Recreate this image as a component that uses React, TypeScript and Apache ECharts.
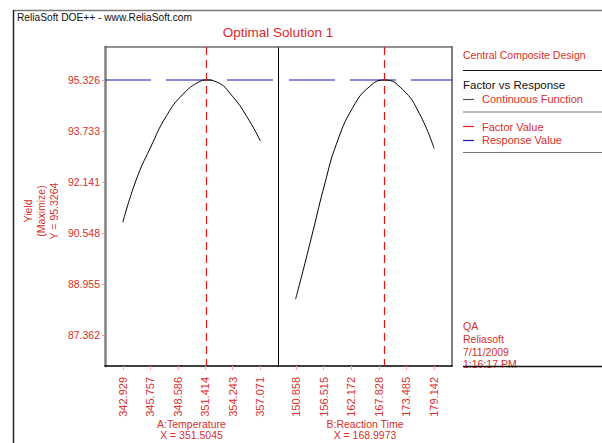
import React, { useEffect, useRef } from "react";
import * as echarts from "echarts";

// ---- data ----
const yTicks = [87.362, 88.955, 90.548, 92.141, 93.733, 95.326];
const tempTicks = [342.929, 345.757, 348.586, 351.414, 354.243, 357.071];
const timeTicks = [150.858, 156.515, 162.172, 167.828, 173.485, 179.142];

const yMin = 86.394;
const yMax = 96.357;
const tempMin = 341.1;
const tempMax = 358.9;
const timeMin = 147.2;
const timeMax = 182.8;

const tempCurveX = [342.93, 344.3, 345.75, 347.45, 349.12, 350.85, 351.5, 352.55, 354.21, 355.94, 357.07];
const tempCurveY = [90.88, 92.2, 93.2, 94.22, 94.88, 95.28, 95.326, 95.27, 94.82, 94.06, 93.43];

const timeCurveX = [150.8, 152.34, 154.38, 156.76, 159.14, 162.52, 165.92, 169.0, 172.69, 176.09, 179.14];
const timeCurveY = [88.48, 89.38, 90.62, 92.08, 93.32, 94.47, 95.12, 95.326, 95.03, 94.29, 93.19];

const tempFactor = 351.5045;
const timeFactor = 168.9973;
const responseValue = 95.326;

const tempName = "A:Temperature\nX = 351.5045";
const timeName = "B:Reaction Time\nX = 168.9973";
const yName = "Yield\n(Maximize)\nY = 95.3264";
const titleText = "Optimal Solution 1";
const headerText = "ReliaSoft DOE++ - www.ReliaSoft.com";
const footerLines = ["QA", "Reliasoft", "7/11/2009", "1:16:17 PM"];

const RED = "#d9302c";
const BLUE = "#1414b4";
const FONT = "'Liberation Sans', Arial, sans-serif";

function txt(x: number, y: number, text: string, opts: any = {}) {
  const align = opts.align || "left";
  const va = opts.va || "middle";
  return {
    type: "text",
    x,
    y,
    rotation: opts.rotation || 0,
    style: {
      text,
      fill: opts.color || RED,
      fontSize: opts.size || 10.5,
      fontFamily: FONT,
      align,
      verticalAlign: va,
      textAlign: align,
      textVerticalAlign: va,
      lineHeight: opts.lineHeight,
    },
    silent: true,
  };
}

function hline(x1: number, x2: number, y: number, stroke: string, w = 1) {
  return { type: "line", shape: { x1, y1: y, x2, y2: y }, style: { stroke, lineWidth: w }, silent: true };
}

function buildOption() {
  const fmt = (v: number) => v.toFixed(3);
  const xAxisBase = (gridIndex: number, min: number, max: number, ticks: number[], name: string) => ({
    gridIndex,
    type: "value",
    min,
    max,
    position: "bottom",
    axisLine: { show: true, onZero: false, lineStyle: { color: "#000", width: 1.5 } },
    axisTick: { show: true, customValues: ticks, length: 4, lineStyle: { color: "#f2a3a3" } },
    axisLabel: {
      customValues: ticks,
      rotate: 90,
      formatter: fmt,
      color: RED,
      fontSize: 11,
      fontFamily: FONT,
      margin: 11,
    },
    splitLine: { show: false },
    name,
    nameLocation: "middle",
    nameGap: 52,
    nameMoveOverlap: false,
    nameTextStyle: { color: RED, fontSize: 10.5, fontFamily: FONT, lineHeight: 11 },
  });
  const topAxis = (gridIndex: number, min: number, max: number) => ({
    gridIndex,
    type: "value",
    min,
    max,
    position: "top",
    axisLine: { show: true, onZero: false, lineStyle: { color: "#6e6e6e", width: 1.5 } },
    axisTick: { show: false },
    axisLabel: { show: false },
    splitLine: { show: false },
  });

  const curve = (xs: number[], ys: number[]) => xs.map((x, i) => [x, ys[i]]);

  const curveSeries = (idx: number, xs: number[], ys: number[], factor: number) => ({
    type: "line",
    xAxisIndex: idx,
    yAxisIndex: idx,
    data: curve(xs, ys),
    smooth: 0.5,
    showSymbol: false,
    color: "#000",
    lineStyle: { color: "#000", width: 1 },
    z: 3,
    markLine: {
      silent: true,
      symbol: ["none", "none"],
      label: { show: false },
      lineStyle: { color: "#dd1616", type: [8, 5], width: 1.2, dashOffset: 1 },
      data: [{ xAxis: factor }],
    },
  });

  const responseSeries = (idx: number, min: number, max: number, offset: number) => ({
    type: "line",
    xAxisIndex: idx,
    yAxisIndex: idx,
    data: [
      [min, responseValue],
      [max, responseValue],
    ],
    showSymbol: false,
    color: BLUE,
    lineStyle: { color: BLUE, type: [46, 15], width: 1.2, dashOffset: offset },
    emphasis: { disabled: true },
    silent: true,
    z: 2,
  });

  const gridBase = { top: 47, height: 319, containLabel: false, outerBoundsMode: "none" };

  return {
    animation: false,
    backgroundColor: "#fff",
    textStyle: { fontFamily: FONT },
    grid: [
      { ...gridBase, left: 105, width: 173 },
      { ...gridBase, left: 278, width: 174 },
    ],
    xAxis: [
      xAxisBase(0, tempMin, tempMax, tempTicks, tempName),
      xAxisBase(1, timeMin, timeMax, timeTicks, timeName),
      topAxis(0, tempMin, tempMax),
      topAxis(1, timeMin, timeMax),
    ],
    yAxis: [
      {
        gridIndex: 0,
        type: "value",
        min: yMin,
        max: yMax,
        position: "left",
        axisLine: { show: true, onZero: false, lineStyle: { color: "#808080", width: 2.5 } },
        axisTick: { show: true, customValues: yTicks, length: 3, lineStyle: { color: "#f2a3a3" } },
        axisLabel: { customValues: yTicks, formatter: fmt, color: RED, fontSize: 10.5, fontFamily: FONT, margin: 5 },
        splitLine: { show: false },
      },
      {
        gridIndex: 1,
        type: "value",
        min: yMin,
        max: yMax,
        position: "left",
        axisLine: { show: true, onZero: false, lineStyle: { color: "#000", width: 1 } },
        axisTick: { show: false },
        axisLabel: { show: false },
        splitLine: { show: false },
      },
      {
        gridIndex: 1,
        type: "value",
        min: yMin,
        max: yMax,
        position: "right",
        axisLine: { show: true, onZero: false, lineStyle: { color: "#808080", width: 2 } },
        axisTick: { show: false },
        axisLabel: { show: false },
        splitLine: { show: false },
      },
    ],
    series: [
      responseSeries(0, tempMin, tempMax, 0),
      responseSeries(1, timeMin, timeMax, 50),
      curveSeries(0, tempCurveX, tempCurveY, tempFactor),
      curveSeries(1, timeCurveX, timeCurveY, timeFactor),
    ],
    graphic: [
      // outer frame
      hline(13, 602, 10.5, "#777", 1.5),
      { type: "line", shape: { x1: 13.5, y1: 10, x2: 13.5, y2: 443 }, style: { stroke: "#222", lineWidth: 1.5 }, silent: true },
      txt(17, 17, headerText, { color: "#111", size: 10.2 }),
      txt(278, 32, titleText, { color: "#e0262b", size: 13.5, align: "center" }),
      txt(41, 211, yName, { align: "center", rotation: Math.PI / 2, lineHeight: 13 }),
      // legend block
      txt(463, 55, "Central Composite Design", { size: 10.5 }),
      hline(463, 602, 70.5, "#111", 1.2),
      txt(463, 85, "Factor vs Response", { color: "#111", size: 11.5 }),
      hline(463, 474, 99.5, "#555", 1.2),
      txt(482, 99, "Continuous Function", { size: 11 }),
      hline(463, 602, 112, "#777", 1.2),
      hline(463, 474, 126.5, "#e02020", 1.2),
      txt(482, 126.5, "Factor Value", { size: 11 }),
      hline(463, 474, 140.5, BLUE, 1.2),
      txt(482, 140, "Response Value", { size: 11 }),
      hline(463, 602, 152.5, "#777", 1.2),
      // footer
      ...footerLines.map((t, i) => txt(463, 326 + i * 12.8, t, { size: 10.5 })),
      hline(463, 602, 366.5, "#111", 1.5),
    ],
  };
}

export default function App() {
  const ref = useRef<HTMLDivElement>(null);
  useEffect(() => {
    if (!ref.current) return;
    const chart = echarts.init(ref.current, null, { renderer: "svg" });
    chart.setOption(buildOption() as any);
    return () => chart.dispose();
  }, []);
  return (
    <div
      ref={ref}
      style={{ position: "absolute", left: 0, top: 0, width: 602, height: 443, background: "#fff" }}
    />
  );
}
